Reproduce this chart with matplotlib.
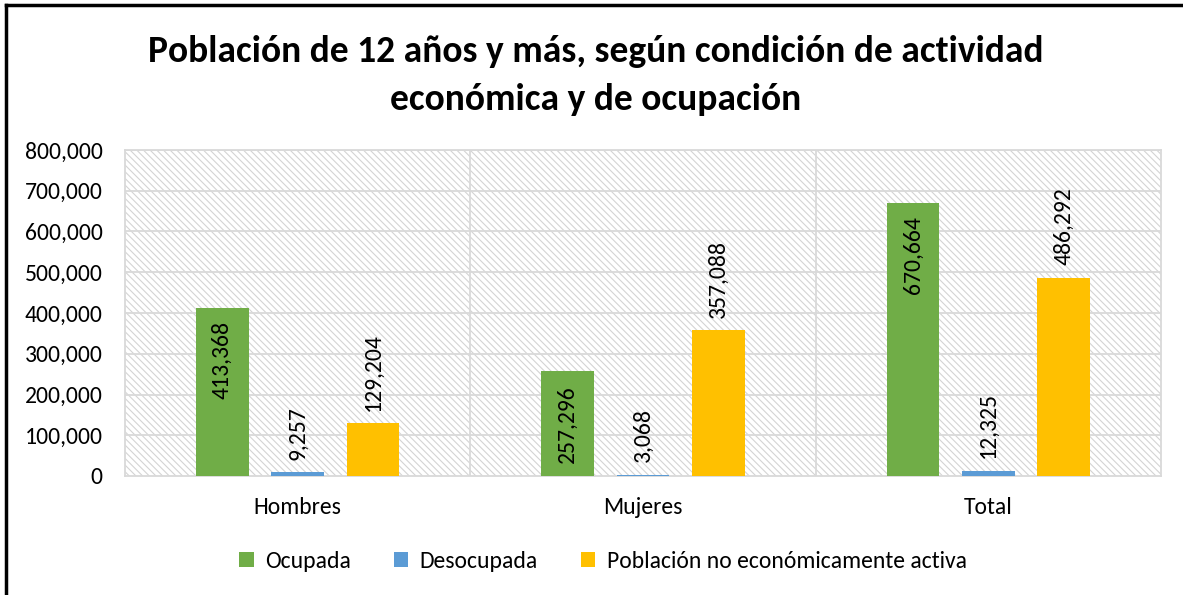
import matplotlib
matplotlib.use("Agg")
import matplotlib.pyplot as plt
from matplotlib.patches import Rectangle
from matplotlib.lines import Line2D
import numpy as np

categories = ["Hombres", "Mujeres", "Total"]
series_names = ["Ocupada", "Desocupada", "Población no económicamente activa"]
ocupada = [413368, 257296, 670664]
desocupada = [9257, 3068, 12325]
no_activa = [129204, 357088, 486292]
colors = ["#70AD47", "#5B9BD5", "#FFC000"]
yticks = [0, 100000, 200000, 300000, 400000, 500000, 600000, 700000, 800000]

FONT = ["Carlito", "Lato", "DejaVu Sans"]
plt.rcParams['font.family'] = FONT
plt.rcParams['hatch.color'] = "#d4d4d4"
plt.rcParams['hatch.linewidth'] = 0.8

FS = 17

W, H = 1183, 595
fig = plt.figure(figsize=(W / 100, H / 100), dpi=100)
ax = fig.add_axes([125 / W, 1 - 476 / H, (1161 - 125) / W, (476 - 150) / H])

bg = Rectangle((0, 0), 1, 1, transform=ax.transAxes, facecolor="white",
               edgecolor="#d4d4d4", hatch="\\\\\\\\\\", linewidth=0, zorder=0)
ax.add_patch(bg)

x = np.arange(len(categories))
bw = 0.152
off = 0.218
data = [ocupada, desocupada, no_activa]
for i, (vals, c, name) in enumerate(zip(data, colors, series_names)):
    bars = ax.bar(x + (i - 1) * off, vals, bw, color=c, label=name, zorder=3)
    for b, v in zip(bars, vals):
        cx = b.get_x() + b.get_width() / 2
        if i == 0:
            ax.annotate(f"{v:,}", (cx, v), xytext=(0, -10), textcoords="offset points",
                        rotation=90, ha="center", va="top", fontsize=FS, color="black", zorder=4)
        else:
            ax.annotate(f"{v:,}", (cx, v), xytext=(0, 9), textcoords="offset points",
                        rotation=90, ha="center", va="bottom", fontsize=FS, color="black", zorder=4)

ax.set_xlim(-0.5, 2.5)
ax.set_ylim(0, 800000)
ax.set_yticks(yticks)
ax.set_yticklabels([f"{t:,}" for t in yticks], fontsize=FS)
ax.set_xticks(x)
ax.set_xticklabels(categories, fontsize=FS)
ax.tick_params(axis="both", length=0, colors="black")
ax.tick_params(axis="y", pad=16)
ax.tick_params(axis="x", pad=15)
for t in yticks[1:]:
    ax.axhline(t, color="#d9d9d9", lw=1.3, zorder=1)
for xv in [0.5, 1.5]:
    ax.axvline(xv, color="#d9d9d9", lw=1.3, zorder=1)
for s in ax.spines.values():
    s.set_color("#d9d9d9")
    s.set_linewidth(1.3)

fig.text(596 / W, 1 - 52 / H, "Población de 12 años y más, según condición de actividad",
         ha="center", va="center", fontsize=27, fontweight="bold")
fig.text(596 / W, 1 - 99 / H, "económica y de ocupación",
         ha="center", va="center", fontsize=27, fontweight="bold")

fig.legend(loc="center", bbox_to_anchor=(603 / W, 1 - 561 / H), ncol=3, frameon=False,
           fontsize=FS, handlelength=0.6, handleheight=0.6, handletextpad=0.5,
           columnspacing=1.8)

fig.add_artist(Line2D([6 / W, 1], [1 - 5 / H, 1 - 5 / H], color="black", lw=2.5, transform=fig.transFigure))
fig.add_artist(Line2D([6 / W, 6 / W], [0, 1 - 5 / H], color="black", lw=2.5, transform=fig.transFigure))

fig.savefig("out.png", dpi=100)
